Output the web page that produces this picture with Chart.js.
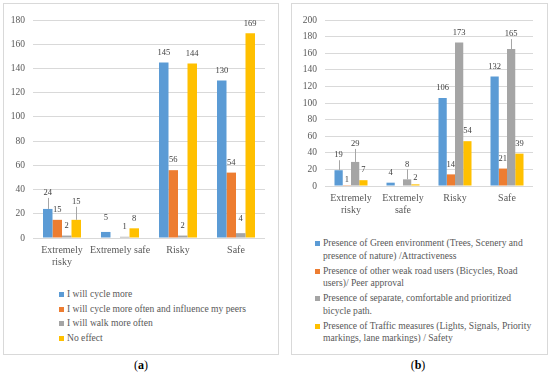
<!DOCTYPE html>
<html>
<head>
<meta charset="UTF-8">
<title>Cycling perception charts</title>
<script src="https://cdn.jsdelivr.net/npm/chart.js"></script>
<style>
  body { margin: 0; width: 550px; height: 373px; background: #fff; position: relative; overflow: hidden; font-family: "Liberation Serif", "DejaVu Serif", serif; }
  .panel { position: absolute; top: 3px; height: 352px; border: 1px solid #d9d9d9; box-sizing: border-box; }
  .wrap { position: absolute; }
  .legend { position: absolute; font-size: 9.6px; color: #595959; }
  .item { display: flex; align-items: flex-start; }
  .mark { width: 5px; height: 5px; flex: none; margin-right: 3px; }
  .cap { position: absolute; width: 80px; text-align: center; font-size: 12px; line-height: 14px; top: 358px; color: #000; }
</style>
</head>
<body>
  <div class="panel" style="left:3px; width:276px;"></div>
  <div class="panel" style="left:291px; width:257px;"></div>

  <div class="wrap" style="left:4px; top:4px; width:272px; height:268px;"><canvas id="chartA"></canvas></div>
  <div class="wrap" style="left:292px; top:4px; width:254px; height:225px;"><canvas id="chartB"></canvas></div>

  <div class="legend" id="legendA" style="left:59px; top:287px; line-height:14.5px;"></div>
  <div class="legend" id="legendB" style="left:315px; top:237px; line-height:12.5px;"></div>

  <div class="cap" style="left:101px;">(<b>a</b>)</div>
  <div class="cap" style="left:378px;">(<b>b</b>)</div>

<script>
// ---- data ----
const categoriesA = [['Extremely', 'risky'], 'Extremely safe', 'Risky', 'Safe'];
const categoriesB = [['Extremely', 'risky'], ['Extremely', 'safe'], 'Risky', 'Safe'];

const namesA = [
  'I will cycle more',
  'I will cycle more often and influence my peers',
  'I will walk more often',
  'No effect'
];
const cycleMore   = [24, 5, 145, 130];
const cycleInfl   = [15, null, 56, 54];
const walkMore    = [2, 1, 2, 4];
const noEffect    = [15, 8, 144, 169];

const namesB = [
  ['Presence of Green environment (Trees, Scenery and', 'presence of nature) /Attractiveness'],
  ['Presence of other weak road users (Bicycles, Road', 'users)/ Peer approval'],
  ['Presence of separate, comfortable and prioritized', 'bicycle path.'],
  ['Presence of Traffic measures (Lights, Signals, Priority', 'markings, lane markings) / Safety']
];
const greenEnv     = [19, 4, 106, 132];
const weakUsers    = [1, null, 14, 21];
const separatePath = [29, 8, 173, 165];
const trafficMeas  = [7, 2, 54, 39];

const colors = ['#5b9bd5', '#ed7d31', '#a5a5a5', '#ffc000'];

// ---- value labels drawn above bars, with Excel-like leader lines ----
const valueLabels = {
  id: 'valueLabels',
  afterDatasetsDraw(chart, args, opts) {
    const ctx = chart.ctx;
    const nudge = opts.nudge || {};
    ctx.save();
    ctx.font = '8.5px "Liberation Serif", "DejaVu Serif", serif';
    ctx.textAlign = 'center';
    ctx.textBaseline = 'middle';
    chart.data.datasets.forEach((ds, i) => {
      chart.getDatasetMeta(i).data.forEach((bar, j) => {
        const v = ds.data[j];
        if (v === null) return;
        const extra = nudge[i + ':' + j] || 0;
        const y = bar.y - 10 - extra;
        if (extra >= 5) {
          ctx.strokeStyle = '#a6a6a6';
          ctx.lineWidth = 1;
          ctx.beginPath();
          ctx.moveTo(Math.round(bar.x) + 0.5, bar.y);
          ctx.lineTo(Math.round(bar.x) + 0.5, y + 5);
          ctx.stroke();
        }
        ctx.fillStyle = '#404040';
        ctx.fillText(v, bar.x, y);
      });
    });
    ctx.restore();
  }
};

function makeChart(id, labels, names, series, opt) {
  return new Chart(document.getElementById(id), {
    type: 'bar',
    data: {
      labels: labels,
      datasets: series.map((d, i) => ({
        label: Array.isArray(names[i]) ? names[i].join(' ') : names[i],
        data: d,
        backgroundColor: colors[i],
        categoryPercentage: opt.catPct,
        barPercentage: 1
      }))
    },
    options: {
      responsive: true,
      maintainAspectRatio: false,
      animation: false,
      layout: { padding: { top: 16, right: opt.padRight, left: 0, bottom: 0 } },
      plugins: {
        legend: { display: false },
        tooltip: { enabled: false },
        valueLabels: { nudge: opt.nudge }
      },
      scales: {
        x: {
          grid: { display: false, drawTicks: false },
          border: { display: false },
          ticks: { color: '#595959', padding: 6, font: { family: '"Liberation Serif", "DejaVu Serif", serif', size: 10 }, maxRotation: 0, autoSkip: false },
          afterFit: s => { s.height = opt.xHeight; }
        },
        y: {
          min: 0, max: opt.max,
          grid: { color: '#d9d9d9', drawTicks: false },
          border: { display: false },
          ticks: { stepSize: 20, color: '#595959', padding: 8, font: { family: '"Liberation Serif", "DejaVu Serif", serif', size: 9.5 } },
          afterFit: s => { s.width = opt.yWidth; }
        }
      }
    },
    plugins: [valueLabels]
  });
}

function buildLegend(id, names) {
  const box = document.getElementById(id);
  names.forEach((n, i) => {
    const lines = Array.isArray(n) ? n : [n];
    const item = document.createElement('div');
    item.className = 'item';
    item.style.marginBottom = Array.isArray(n) ? '2.5px' : '0';
    const mk = document.createElement('span');
    mk.className = 'mark';
    mk.style.background = colors[i];
    mk.style.marginTop = (Array.isArray(n) ? 4 : 5) + 'px';
    const tx = document.createElement('span');
    lines.forEach((l, k) => {
      if (k) tx.appendChild(document.createElement('br'));
      tx.appendChild(document.createTextNode(l));
    });
    item.appendChild(mk);
    item.appendChild(tx);
    box.appendChild(item);
  });
}

makeChart('chartA', categoriesA, namesA, [cycleMore, cycleInfl, walkMore, noEffect], {
  max: 180, catPct: 0.655, padRight: 11, yWidth: 29, xHeight: 34,
  nudge: { '0:0': 6, '3:0': 8, '0:1': 4, '2:3': 4 }
});
makeChart('chartB', categoriesB, namesB, [greenEnv, weakUsers, separatePath, trafficMeas], {
  max: 200, catPct: 0.635, padRight: 13, yWidth: 33, xHeight: 43,
  nudge: { '0:0': 5, '1:0': -5, '2:0': 8, '2:1': 5, '3:1': -3, '2:3': 5 }
});

buildLegend('legendA', namesA);
buildLegend('legendB', namesB);
</script>
</body>
</html>
